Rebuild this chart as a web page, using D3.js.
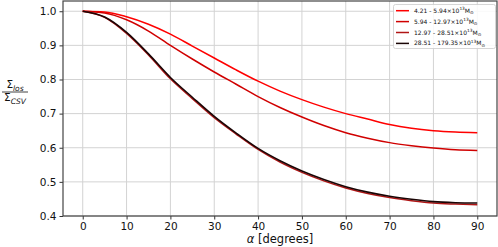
<!DOCTYPE html>
<html>
<head>
<meta charset="utf-8">
<script src="https://cdn.jsdelivr.net/npm/d3@7"></script>
<style>
  body { margin: 0; background: #fff; }
  svg { display: block; font-family: "DejaVu Sans", sans-serif; }
</style>
</head>
<body>
<div id="chart"></div>
<script>
// angle values (degrees)
const alphas = [0, 5, 10, 15, 20, 25, 30, 35, 40, 45, 50, 55, 60, 65, 70, 75, 80, 85, 90];

// ratio Sigma_los / Sigma_CSV per mass bin
const bin1 = [1.0, 0.998, 0.984, 0.962, 0.933, 0.898, 0.863, 0.828, 0.795, 0.766, 0.741, 0.719, 0.700, 0.684, 0.668, 0.657, 0.650, 0.646, 0.644];
const bin2 = [1.0, 0.995, 0.975, 0.942, 0.900, 0.860, 0.822, 0.786, 0.750, 0.718, 0.690, 0.665, 0.644, 0.628, 0.615, 0.606, 0.599, 0.594, 0.592];
const bin3 = [1.0, 0.982, 0.935, 0.872, 0.802, 0.744, 0.688, 0.640, 0.595, 0.558, 0.528, 0.503, 0.482, 0.466, 0.454, 0.445, 0.438, 0.435, 0.433];
const bin4 = [1.0, 0.983, 0.938, 0.875, 0.806, 0.748, 0.692, 0.643, 0.598, 0.562, 0.532, 0.507, 0.486, 0.470, 0.458, 0.449, 0.442, 0.439, 0.438];

const binLabels = [
    ["4.21 - 5.94"],
    ["5.94 - 12.97"],
    ["12.97 - 28.51"],
    ["28.51 - 179.35"]
];
const binColors = ["#ff0000", "#d00000", "#b01515", "#1a0505"];

const xTicks = [0, 10, 20, 30, 40, 50, 60, 70, 80, 90];
const yTicks = [0.4, 0.5, 0.6, 0.7, 0.8, 0.9, 1.0];

const W = 498, H = 247;
const margin = { top: 1, right: 1, bottom: 31, left: 63 };

const svg = d3.select("#chart").append("svg")
    .attr("width", W)
    .attr("height", H);

const x = d3.scaleLinear().domain([-4.5, 94.5]).range([margin.left, W - margin.right]);
const y = d3.scaleLinear().domain([0.4, 1.03]).range([H - margin.bottom, margin.top]);

// grid
svg.append("g").selectAll("line.gx")
    .data(xTicks).enter().append("line")
    .attr("x1", d => x(d)).attr("x2", d => x(d))
    .attr("y1", y(0.4)).attr("y2", y(1.03))
    .style("stroke", "#d3d3d3").style("stroke-width", 1);
svg.append("g").selectAll("line.gy")
    .data(yTicks).enter().append("line")
    .attr("x1", x(-4.5)).attr("x2", x(94.5))
    .attr("y1", d => y(d)).attr("y2", d => y(d))
    .style("stroke", "#d3d3d3").style("stroke-width", 1);

// axes
const xAxis = svg.append("g")
    .attr("transform", `translate(0,${H - margin.bottom})`)
    .call(d3.axisBottom(x).tickValues(xTicks).tickSize(3.5).tickPadding(3));
const yAxis = svg.append("g")
    .attr("transform", `translate(${margin.left},0)`)
    .call(d3.axisLeft(y).tickValues(yTicks).tickFormat(d3.format(".1f")).tickSize(3.5).tickPadding(3));

[xAxis, yAxis].forEach(a => {
    a.select(".domain").remove();
    a.selectAll("line").style("stroke", "#333");
    a.selectAll("text").style("font-size", "10.5px").style("fill", "#111")
        .style("font-family", "DejaVu Sans");
});

// frame
svg.append("rect")
    .attr("x", x(-4.5)).attr("y", y(1.03))
    .attr("width", x(94.5) - x(-4.5))
    .attr("height", y(0.4) - y(1.03))
    .style("fill", "none").style("stroke", "#444").style("stroke-width", 1.2);

// curves
const series = [bin1, bin2, bin3, bin4];
const line = d3.line()
    .x((d, i) => x(alphas[i]))
    .y(d => y(d))
    .curve(d3.curveMonotoneX);

// draw in order so the darker bins sit on top
series.forEach((s, k) => {
    svg.append("path")
        .datum(s)
        .attr("d", line)
        .style("fill", "none")
        .style("stroke", binColors[k])
        .style("stroke-width", k === 3 ? 1.6 : 1.5);
});

// legend
const lg = svg.append("g");
lg.append("rect")
    .attr("x", 393.5).attr("y", 4.5)
    .attr("width", 102).attr("height", 44)
    .attr("rx", 2)
    .style("fill", "#fff").style("fill-opacity", 0.85)
    .style("stroke", "#ccc").style("stroke-width", 0.8);

binLabels.forEach((lab, i) => {
    const cy = 10.7 + i * 10.9;
    lg.append("line")
        .attr("x1", 396).attr("x2", 409)
        .attr("y1", cy).attr("y2", cy)
        .style("stroke", binColors[i]).style("stroke-width", 1.5);
    const t = lg.append("text")
        .attr("x", 414).attr("y", cy + 2)
        .style("font-size", "6px").style("fill", "#111");
    t.append("tspan").text(lab[0] + "\u00d710");
    t.append("tspan").attr("dy", -2.5).style("font-size", "4.3px").text("13");
    t.append("tspan").attr("dy", 2.5).text("M");
    t.append("tspan").attr("dy", 1.2).style("font-size", "4.3px").text("\u2299");
});

// x label
svg.append("text")
    .attr("x", (x(-4.5) + x(94.5)) / 2)
    .attr("y", 243)
    .attr("text-anchor", "middle")
    .style("font-size", "11.5px").style("fill", "#111")
    .html('<tspan font-style="italic">α</tspan> [degrees]');

// y label (fraction)
const yl = svg.append("g").attr("transform", "translate(15,0)");
const num = yl.append("text").attr("x", 0).attr("y", 88)
    .attr("text-anchor", "middle").style("font-size", "10.5px").style("fill", "#111");
num.append("tspan").text("Σ");
num.append("tspan").attr("dy", 2.5).style("font-size", "7.5px").style("font-style", "italic").text("los");
yl.append("line").attr("x1", -13).attr("x2", 13).attr("y1", 92).attr("y2", 92)
    .style("stroke", "#111").style("stroke-width", 0.8);
const den = yl.append("text").attr("x", 0).attr("y", 101)
    .attr("text-anchor", "middle").style("font-size", "10.5px").style("fill", "#111");
den.append("tspan").text("Σ");
den.append("tspan").attr("dy", 2.5).style("font-size", "7.5px").style("font-style", "italic").text("CSV");
</script>
</body>
</html>
